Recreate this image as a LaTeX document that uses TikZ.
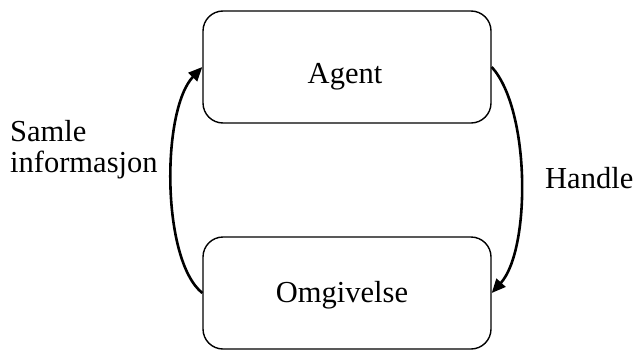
\documentclass[tikz,border=0pt]{standalone}
\usepackage{fontspec}
\setmainfont{Liberation Serif}
\usetikzlibrary{arrows.meta}
\begin{document}
\begin{tikzpicture}[x=1pt,y=-1pt,
  box/.style={draw, line width=1.4pt, rounded corners=20pt,
    minimum width=288pt, minimum height=112pt, inner sep=0pt},
  txt/.style={font=\fontsize{30.5}{31}\selectfont, inner sep=0pt},
  flow/.style={line width=2.6pt, -{Triangle[length=14pt,width=12pt]}}]
  \useasboundingbox (0,0) rectangle (636,351);
  % the two states
  \node[box] (agent) at (347,67) {};
  \node[box] (omg) at (347,293) {};
  \node[txt, anchor=base] (agentlbl) at (345,83) {Agent};
  \node[txt, anchor=base] (omglbl) at (342,302) {Omgivelse};
  % feedback loop
  \draw[flow] (omg.west) .. controls +(-41,-33) and +(-41,43) .. (agent.west);
  \draw[flow] (agent.east) .. controls +(39,43) and +(39,-43) .. (omg.east);
  % loop labels
  \node[txt, anchor=base west, align=left] (sense) at (10,172) {Samle\\informasjon};
  \node[txt, anchor=base west] (act) at (545,188) {Handle};
\end{tikzpicture}
\end{document}
